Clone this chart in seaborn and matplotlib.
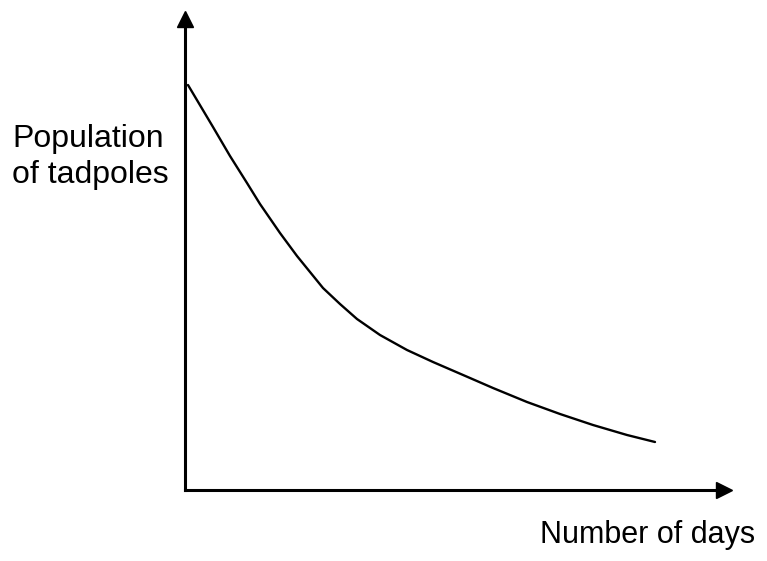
import matplotlib
matplotlib.use("Agg")
import matplotlib.pyplot as plt
import seaborn as sns
import pandas as pd

sns.set_theme(style="white")
plt.rcParams['font.family'] = ['Liberation Sans', 'DejaVu Sans']

days = [3, 28, 45, 62, 75, 95, 112, 125, 138, 155, 172, 195, 222, 248, 285,
        308, 342, 375, 408, 442, 470]
population = [405, 363, 334, 307, 286, 257, 234, 218, 202, 186, 171, 155, 140,
              128, 112, 102, 88, 76, 65, 55, 48]
x_label = "Number of days"
y_label = "Population\nof tadpoles"

df = pd.DataFrame({"days": days, "population": population})

W, H = 767, 561
fig = plt.figure(figsize=(W / 100, H / 100), dpi=100)
fig.patch.set_facecolor("white")
left, bottom, right, top = 185, 490, 724, 19
ax = fig.add_axes([left / W, (H - bottom) / H, (right - left) / W, (bottom - top) / H])

sns.lineplot(data=df, x="days", y="population", ax=ax, color="black", linewidth=1.7)

ax.set_xlim(0, right - left)
ax.set_ylim(0, bottom - top)
ax.set_xticks([])
ax.set_yticks([])
ax.set_xlabel("")
ax.set_ylabel("")
for s in ["top", "right"]:
    ax.spines[s].set_visible(False)
for s in ["left", "bottom"]:
    ax.spines[s].set_color("black")
    ax.spines[s].set_linewidth(2.2)
ax.set_facecolor("white")

# arrow heads
ax.plot(0, 1, marker="^", color="black", markersize=11, transform=ax.transAxes, clip_on=False)
ax.plot(1, 0, marker=">", color="black", markersize=11, transform=ax.transAxes, clip_on=False)

fig.text(12 / W, 1 - 124 / H, y_label, ha="left", va="top", fontsize=23, color="black", linespacing=1.25)
fig.text(540 / W, 1 - 520 / H, x_label, ha="left", va="top", fontsize=22, color="black")

fig.savefig("out.png", dpi=100, facecolor="white")
